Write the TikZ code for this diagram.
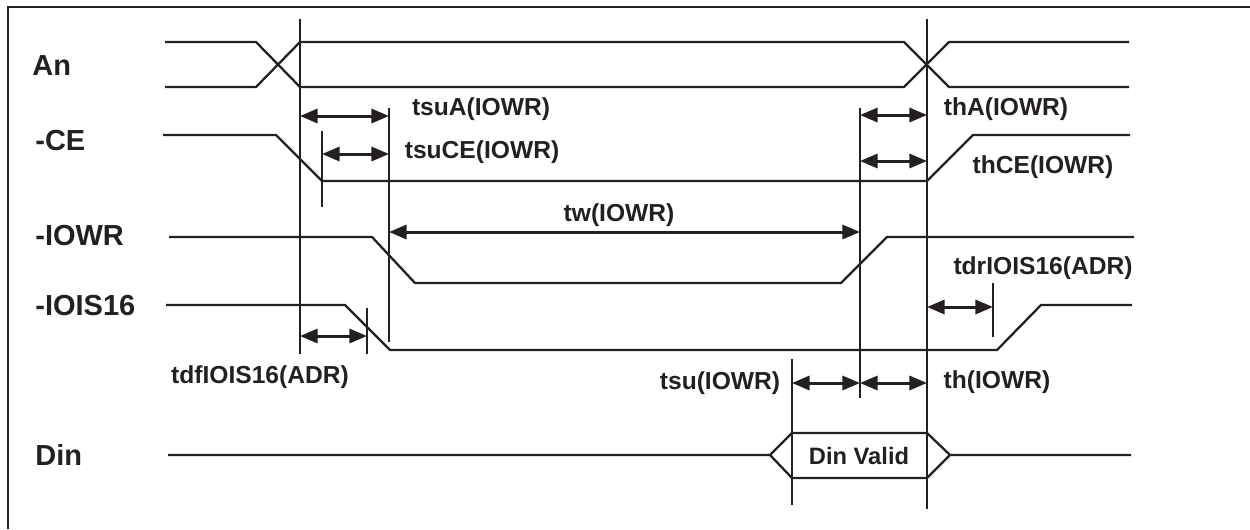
\documentclass[tikz,border=0pt]{standalone}
\usepackage{fontspec}
\setmainfont{Liberation Sans}
\usetikzlibrary{arrows.meta}
\definecolor{ink}{rgb}{0.14, 0.12, 0.13}
\tikzset{sig/.style = {ink, line width=1.3pt},
         guide/.style = {ink, line width=1.1pt},
         span/.style = {ink, line width=1.7pt,
                        {Triangle[length=10pt,width=8pt]}-{Triangle[length=10pt,width=8pt]}},
         signame/.style = {anchor=west, inner sep=0pt, text=ink,
                           font=\fontsize{16.5}{18}\selectfont\bfseries},
         tlabel/.style = {inner sep=0pt, text=ink,
                          font=\fontsize{14}{16}\selectfont\bfseries}}

\begin{document}
\begin{tikzpicture}[x=0.02cm, y=-0.02cm]
    \useasboundingbox (0, 0) rectangle (1250, 529);
    \draw [ink, line width=1.4pt] (8, 529) -- (8, 7) -- (1250, 7);

    % signal names
    \node [signame] (an) at (32, 66) {An};
    \node [signame] (ce) at (35, 141) {-CE};
    \node [signame] (iowr) at (35, 236) {-IOWR};
    \node [signame] (iois) at (35, 306) {-IOIS16};
    \node [signame] (din) at (35, 455) {Din};

    % waveforms
    \draw [sig] (165, 42) -- (256, 42) -- (300, 87) -- (904, 87) -- (949, 42) -- (1129, 42);
    \draw [sig] (165, 87) -- (256, 87) -- (300, 42) -- (904, 42) -- (949, 87) -- (1129, 87);
    \draw [sig] (163, 135) -- (276, 135) -- (322, 181) -- (927, 181) -- (973, 135) -- (1130, 135);
    \draw [sig] (169, 237) -- (372, 237) -- (415, 283) -- (841, 283) -- (887, 237) -- (1134, 237);
    \draw [sig] (166, 305) -- (345, 305) -- (390, 350) -- (997, 350) -- (1041, 305) -- (1132, 305);
    \draw [sig] (168, 455) -- (770, 455) -- (792, 433) -- (927, 433) -- (950, 455) -- (1131, 455);
    \draw [sig] (770, 455) -- (792, 478) -- (927, 478) -- (950, 455);
    \node [tlabel, font=\fontsize{13.5}{15}\selectfont\bfseries] (valid) at (859, 456) {Din Valid};

    % timing guides
    \draw [guide] (300, 19) -- (300, 354);
    \draw [guide] (927, 19) -- (927, 509);
    \draw [guide] (389, 108) -- (389, 342);
    \draw [guide] (322, 131) -- (322, 207);
    \draw [guide] (860, 108) -- (860, 398);
    \draw [guide] (367, 308) -- (367, 354);
    \draw [guide] (993, 283) -- (993, 337);
    \draw [guide] (792, 359) -- (792, 505);

    % timing spans
    \draw [span] (300, 116) -- (389, 116);
    \draw [span] (322, 154) -- (389, 154);
    \draw [span] (860, 115) -- (927, 115);
    \draw [span] (860, 161) -- (927, 161);
    \draw [span] (389, 232) -- (860, 232);
    \draw [span] (300, 336) -- (367, 336);
    \draw [span] (927, 307) -- (993, 307);
    \draw [span] (792, 383) -- (860, 383);
    \draw [span] (860, 383) -- (927, 383);

    \node [tlabel] (tsua) at (481, 109) {tsuA(IOWR)};
    \node [tlabel] (tsuce) at (482, 152) {tsuCE(IOWR)};
    \node [tlabel] (tha) at (1006, 109) {thA(IOWR)};
    \node [tlabel] (thce) at (1043, 167) {thCE(IOWR)};
    \node [tlabel] (tw) at (619, 215) {tw(IOWR)};
    \node [tlabel] (tdr) at (1043, 268) {tdrIOIS16(ADR)};
    \node [tlabel] (tdf) at (260, 377) {tdfIOIS16(ADR)};
    \node [tlabel] (tsu) at (720, 383) {tsu(IOWR)};
    \node [tlabel] (th) at (997, 382) {th(IOWR)};
  \end{tikzpicture}
\end{document}
